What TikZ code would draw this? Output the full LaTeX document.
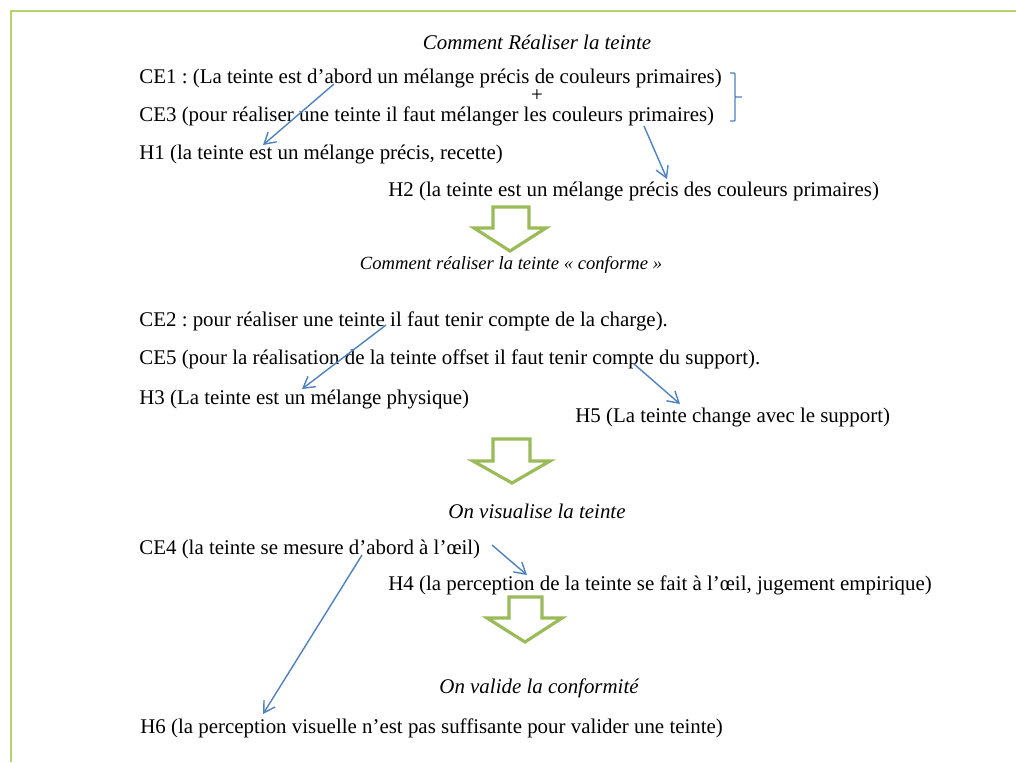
\documentclass[tikz,border=0pt]{standalone}
\usepackage{fontspec}
\setmainfont{Liberation Serif}
\usetikzlibrary{positioning, arrows.meta}
\frenchspacing

\definecolor{leaf}{HTML}{9BBB59}
\definecolor{frameleaf}{HTML}{B5D36B}
\definecolor{link}{HTML}{4F81BD}

\begin{document}
\begin{tikzpicture}[
  x=0.02cm, y=-0.02cm,
  font=\fontsize{11.9pt}{14pt}\selectfont,
  line/.style={anchor=west, inner sep=0pt},
  title/.style={inner sep=0pt, font=\fontsize{11.9pt}{14pt}\selectfont\itshape},
  arrow/.style={-{Straight Barb[length=2.2mm, width=2.6mm]}, link, line width=0.8pt},
  bigarrow/.style={draw=leaf, fill=white, line width=1.8pt, line join=miter},
]
\useasboundingbox (0,0) rectangle (1016,762);
\draw[frameleaf, line width=0.6pt] (11,762) -- (11,11) -- (1016,11);

\node[title] (t1) at (537,42) {Comment Réaliser la teinte};
\node[line] (ce1) at (139,78) {CE1 : (La teinte est d’abord un mélange précis de couleurs primaires)};
\node[inner sep=0pt] (plus) at (537,96) {+};
\node[line] (ce3) at (139,116) {CE3 (pour réaliser une teinte il faut mélanger les couleurs primaires)};
\node[line] (h1) at (139,154) {H1 (la teinte est un mélange précis, recette)};
\node[line] (h2) at (388,191) {H2 (la teinte est un mélange précis des couleurs primaires)};

\node[title, font=\fontsize{10.6pt}{13pt}\selectfont\itshape] (t2) at (511,265) {Comment réaliser la teinte « conforme »};
\node[line] (ce2) at (139,321) {CE2 : pour réaliser une teinte il faut tenir compte de la charge).};
\node[line] (ce5) at (139,359) {CE5 (pour la réalisation de la teinte offset il faut tenir compte du support).};
\node[line] (h3) at (139,399) {H3 (La teinte est un mélange physique)};
\node[line] (h5) at (575,417) {H5 (La teinte change avec le support)};

\node[title] (t3) at (537,511) {On visualise la teinte};
\node[line] (ce4) at (139,549) {CE4 (la teinte se mesure d’abord à l’œil)};
\node[line] (h4) at (388,585) {H4 (la perception de la teinte se fait à l’œil, jugement empirique)};

\node[title] (t4) at (539,688) {On valide la conformité};
\node[line] (h6) at (140,728) {H6 (la perception visuelle n’est pas suffisante pour valider une teinte)};

% brace joining CE1 and CE3
\draw[link, line width=0.8pt, rounded corners=0.5pt]
  (730,73) -- (735,73) -- (735,97) -- (742,97) (735,97) -- (735,121) -- (730,121);

% block arrows between the stages
\draw[bigarrow] (493,207) -- (529,207) -- (529,228) -- (546,228) -- (510,251)
  -- (474,228) -- (493,228) -- cycle;
\draw[bigarrow] (493,439) -- (530,439) -- (530,461) -- (550,461) -- (512,483)
  -- (473,461) -- (493,461) -- cycle;
\draw[bigarrow] (509,597) -- (542,597) -- (542,618) -- (562,618) -- (525,642)
  -- (487,618) -- (509,618) -- cycle;

% links from the observations to the hypotheses
\coordinate (a1) at (334,84);  \coordinate (b1) at (263,145);
\coordinate (a2) at (644,126); \coordinate (b2) at (667,179);
\coordinate (a3) at (386,325); \coordinate (b3) at (302,389);
\coordinate (a4) at (634,364); \coordinate (b4) at (680,404);
\coordinate (a5) at (492,545); \coordinate (b5) at (527,575);
\coordinate (a6) at (362,555); \coordinate (b6) at (263,714);
\foreach \i in {1,...,6}
  \draw[arrow] (a\i) -- (b\i);
\end{tikzpicture}
\end{document}
